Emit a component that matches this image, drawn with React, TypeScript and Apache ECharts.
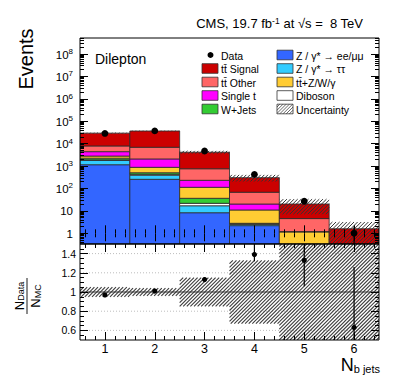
import React, { useEffect, useRef } from "react";
import * as echarts from "echarts";

// ---------------- data ----------------
const nbJets = [1, 2, 3, 4, 5, 6];
const zEeMuMu = [1150, 257, 8.3, 2.2, 0.05, 0];
const zTauTau = [650, 133, 8.7, 0.3, 0.02, 0];
const dibosonVals = [100, 40, 4.8, 0.15, 0.03, 0];
const wJets = [350, 75, 14.7, 0.15, 0, 0];
const ttV = [550, 375, 76.5, 8.2, 1.05, 0.05];
const singleTop = [1600, 1200, 119, 9.3, 0.05, 0];
const ttOther = [3500, 4820, 528, 47.7, 3.35, 0.1];
const ttSignal = [21600, 29800, 3390, 237, 15.8, 1.45];
const dataEvents = [28600, 37100, 4700, 425, 27, 1];
const uncRelUp = [0.05, 0.04, 0.15, 0.33, 0.65, 1.0];
const uncRelDown = [0.05, 0.04, 0.15, 0.33, 0.65, 1.0];
const ratioValues = [0.97, 1.01, 1.13, 1.39, 1.33, 0.63];
const ratioErrUp = [0.01, 0.01, 0.02, 0.12, 0.27, 0.63];
const ratioErrDown = [0.01, 0.01, 0.02, 0.07, 0.27, 0.63];
const logTickExponents = [0, 1, 2, 3, 4, 5, 6, 7, 8];
const ratioTickValues = [0.6, 0.8, 1, 1.2, 1.4];
const ratioGridValues = [0.6, 0.8, 1.2, 1.4];

const TT = "t\u0074\u0304";
const stackDefs = [
  { name: "Z / \u03b3* \u2192 ee/\u03bc\u03bc", values: zEeMuMu, color: "#3366ff" },
  { name: "Z / \u03b3* \u2192 \u03c4\u03c4", values: zTauTau, color: "#33ccff" },
  { name: "Diboson", values: dibosonVals, color: "#ffffff" },
  { name: "W+Jets", values: wJets, color: "#33cc33" },
  { name: TT + "+Z/W/\u03b3", values: ttV, color: "#ffcc33" },
  { name: "Single t", values: singleTop, color: "#ff00ff" },
  { name: TT + " Other", values: ttOther, color: "#ff6666" },
  { name: TT + " Signal", values: ttSignal, color: "#cc0000" },
];

// ---------------- layout ----------------
const FONT = "'Liberation Sans', Arial, Helvetica, sans-serif";
const GL = 80;
const GW = 299;
const G0T = 38;
const G0H = 206;
const G1T = 244;
const G1H = 96;
const X_MIN = 0.5;
const X_MAX = 6.5;
const LOG_MIN = -0.477;
const LOG_MAX = 8.715;
const R_MIN = 0.5;
const R_MAX = 1.5;
const HATCH = "#333333";

function hatchLines(x0: number, y0: number, x1: number, y1: number, step: number, color = HATCH, w = 0.9) {
  const out: any[] = [];
  const cStart = Math.ceil((x0 + y0) / step) * step;
  for (let c = cStart; c <= x1 + y1; c += step) {
    const xa = Math.max(x0, c - y1);
    const xb = Math.min(x1, c - y0);
    if (xb <= xa) continue;
    out.push({
      type: "line",
      shape: { x1: xa, y1: c - xa, x2: xb, y2: c - xb },
      style: { stroke: color, lineWidth: w },
      silent: true,
    });
  }
  return out;
}

function range(a: number, b: number, s: number) {
  const out: number[] = [];
  for (let v = a; v <= b + 1e-9; v += s) out.push(Math.round(v * 1000) / 1000);
  return out;
}

const xMinor = range(0.6, 6.4, 0.2).filter((v) => Math.abs(v - Math.round(v)) > 1e-6);
const logMinor: number[] = [];
for (let d = -1; d <= 8; d++) {
  for (let k = 2; k <= 9; k++) {
    const v = Math.log10(k) + d;
    if (v > LOG_MIN && v < LOG_MAX) logMinor.push(v);
  }
}
const ratioMinor = range(0.5, 1.5, 0.05).filter(
  (v) => !ratioTickValues.some((t) => Math.abs(t - v) < 1e-6) && v > R_MIN && v < R_MAX
);

function tickAxis(grid: number, position: string, min: number, max: number, values: number[], length: number, label?: any) {
  return {
    type: "value",
    gridIndex: grid,
    position,
    min,
    max,
    z: 10,
    silent: true,
    axisLine: { show: false },
    splitLine: { show: false },
    minorTick: { show: false },
    axisTick: { show: true, inside: true, length, customValues: values, lineStyle: { color: "#000", width: 1 } },
    axisLabel: label ? { ...label, customValues: values } : { show: false },
  };
}

function buildOption() {
  const xAxes = [
    tickAxis(0, "bottom", X_MIN, X_MAX, nbJets, 8),
    tickAxis(0, "bottom", X_MIN, X_MAX, xMinor, 4),
    tickAxis(0, "top", X_MIN, X_MAX, nbJets, 8),
    tickAxis(0, "top", X_MIN, X_MAX, xMinor, 4),
    tickAxis(1, "bottom", X_MIN, X_MAX, nbJets, 8, {
      show: true,
      color: "#000",
      fontSize: 12.5,
      fontFamily: FONT,
      margin: 2,
    }),
    tickAxis(1, "bottom", X_MIN, X_MAX, xMinor, 4),
    tickAxis(1, "top", X_MIN, X_MAX, nbJets, 8),
    tickAxis(1, "top", X_MIN, X_MAX, xMinor, 4),
  ];
  const yAxes = [
    tickAxis(0, "left", LOG_MIN, LOG_MAX, logTickExponents, 8, {
      show: true,
      color: "#000",
      fontSize: 11.5,
      fontFamily: FONT,
      margin: 7,
      formatter: (v: number) => {
        const e = Math.round(v);
        if (e === 0) return "{b|1}";
        if (e === 1) return "{b|10}";
        return "{b|10}{s|" + e + "}";
      },
      rich: {
        b: { fontSize: 11.5, fontFamily: FONT, color: "#000", lineHeight: 13, padding: [4, 0, 0, 0], verticalAlign: "bottom" },
        s: { fontSize: 8, fontFamily: FONT, color: "#000", lineHeight: 8, verticalAlign: "top" },
      },
    }),
    tickAxis(0, "left", LOG_MIN, LOG_MAX, logMinor, 4),
    tickAxis(0, "right", LOG_MIN, LOG_MAX, logTickExponents, 8),
    tickAxis(0, "right", LOG_MIN, LOG_MAX, logMinor, 4),
    tickAxis(1, "left", R_MIN, R_MAX, ratioTickValues, 8, {
      show: true,
      color: "#000",
      fontSize: 10.5,
      fontFamily: FONT,
      margin: 4,
      formatter: (v: number) => String(Math.round(v * 10) / 10),
    }),
    tickAxis(1, "left", R_MIN, R_MAX, ratioMinor, 4),
    tickAxis(1, "right", R_MIN, R_MAX, ratioTickValues, 8),
    tickAxis(1, "right", R_MIN, R_MAX, ratioMinor, 4),
  ];

  const series: any[] = [];

  // stacked MC histograms (log10 space)
  const cum = nbJets.map(() => 0);
  stackDefs.forEach((def, si) => {
    const data = nbJets.map((x, i) => {
      const lo = cum[i];
      const hi = cum[i] + def.values[i];
      cum[i] = hi;
      return [x, lo, hi];
    });
    series.push({
      type: "custom",
      name: def.name,
      xAxisIndex: 0,
      yAxisIndex: 0,
      clip: true,
      z: 2 + si * 0.01,
      silent: true,
      data,
      renderItem: (_p: any, api: any) => {
        const x = api.value(0);
        const lo = api.value(1);
        const hi = api.value(2);
        if (!(hi > 0) || hi <= lo) return { type: "group", children: [] };
        const yHi = Math.min(Math.log10(hi), LOG_MAX);
        if (yHi <= LOG_MIN) return { type: "group", children: [] };
        const yLo = lo > 0 ? Math.max(Math.log10(lo), LOG_MIN) : LOG_MIN;
        const p0 = api.coord([x - 0.5, yHi]);
        const p1 = api.coord([x + 0.5, yLo]);
        return {
          type: "rect",
          shape: { x: p0[0], y: p0[1], width: p1[0] - p0[0], height: p1[1] - p0[1] },
          style: { fill: def.color, stroke: "#2a2a2a", lineWidth: 0.8 },
        };
      },
    });
  });
  const totals = cum.slice();

  // uncertainty hatch (upper)
  series.push({
    type: "custom",
    xAxisIndex: 0,
    yAxisIndex: 0,
    clip: true,
    z: 3,
    silent: true,
    data: nbJets.map((x, i) => [x, totals[i] * (1 - uncRelDown[i]), totals[i] * (1 + uncRelUp[i])]),
    renderItem: (_p: any, api: any) => {
      const x = api.value(0);
      const lo = api.value(1);
      const hi = api.value(2);
      const yHi = Math.min(Math.log10(hi), LOG_MAX);
      const yLo = lo > 0 ? Math.max(Math.log10(lo), LOG_MIN) : LOG_MIN;
      const p0 = api.coord([x - 0.5, yHi]);
      const p1 = api.coord([x + 0.5, yLo]);
      return { type: "group", children: hatchLines(p0[0], p0[1], p1[0], p1[1], 3.6, HATCH, 1) };
    },
  });

  // data points (upper)
  series.push({
    type: "custom",
    xAxisIndex: 0,
    yAxisIndex: 0,
    clip: true,
    z: 5,
    silent: true,
    data: nbJets.map((x, i) => [x, dataEvents[i]]),
    renderItem: (_p: any, api: any) => {
      const x = api.value(0);
      const n = api.value(1);
      const e = Math.sqrt(n);
      const yc = Math.log10(n);
      const yTop = Math.min(Math.log10(n + e), LOG_MAX);
      const yBot = n - e > 0 ? Math.max(Math.log10(n - e), LOG_MIN) : LOG_MIN;
      const pc = api.coord([x, yc]);
      const pt = api.coord([x, yTop]);
      const pb = api.coord([x, yBot]);
      return {
        type: "group",
        children: [
          { type: "line", shape: { x1: pt[0], y1: pt[1], x2: pb[0], y2: pb[1] }, style: { stroke: "#000", lineWidth: 1.2 } },
          { type: "circle", shape: { cx: pc[0], cy: pc[1], r: 3.4 }, style: { fill: "#000" } },
        ],
      };
    },
  });

  // ratio grid lines
  series.push({
    type: "custom",
    xAxisIndex: 4,
    yAxisIndex: 4,
    clip: true,
    z: 1,
    silent: true,
    data: ratioGridValues.map((v) => [X_MIN, v]),
    renderItem: (_p: any, api: any) => {
      const v = api.value(1);
      const a = api.coord([X_MIN, v]);
      const b = api.coord([X_MAX, v]);
      return {
        type: "line",
        shape: { x1: a[0], y1: a[1], x2: b[0], y2: b[1] },
        style: { stroke: "#bdbdbd", lineWidth: 1, lineDash: [1, 2] },
      };
    },
  });

  // ratio uncertainty hatch
  series.push({
    type: "custom",
    xAxisIndex: 4,
    yAxisIndex: 4,
    clip: true,
    z: 2,
    silent: true,
    data: nbJets.map((x, i) => [x, 1 - uncRelDown[i], 1 + uncRelUp[i]]),
    renderItem: (_p: any, api: any) => {
      const x = api.value(0);
      const lo = Math.max(api.value(1), R_MIN);
      const hi = Math.min(api.value(2), R_MAX);
      const p0 = api.coord([x - 0.5, hi]);
      const p1 = api.coord([x + 0.5, lo]);
      return { type: "group", children: hatchLines(p0[0], p0[1], p1[0], p1[1], 3.6, "#3c3c3c", 1.1) };
    },
  });

  // unity line
  series.push({
    type: "custom",
    xAxisIndex: 4,
    yAxisIndex: 4,
    clip: true,
    z: 3,
    silent: true,
    data: [[X_MIN, 1]],
    renderItem: (_p: any, api: any) => {
      const a = api.coord([X_MIN, api.value(1)]);
      const b = api.coord([X_MAX, api.value(1)]);
      return { type: "line", shape: { x1: a[0], y1: a[1], x2: b[0], y2: b[1] }, style: { stroke: "#333", lineWidth: 1 } };
    },
  });

  // ratio points
  series.push({
    type: "custom",
    xAxisIndex: 4,
    yAxisIndex: 4,
    clip: true,
    z: 5,
    silent: true,
    data: nbJets.map((x, i) => [x, ratioValues[i], ratioErrUp[i], ratioErrDown[i]]),
    renderItem: (_p: any, api: any) => {
      const x = api.value(0);
      const r = api.value(1);
      const pc = api.coord([x, r]);
      const pt = api.coord([x, Math.min(r + api.value(2), R_MAX)]);
      const pb = api.coord([x, Math.max(r - api.value(3), R_MIN)]);
      return {
        type: "group",
        children: [
          { type: "line", shape: { x1: pt[0], y1: pt[1], x2: pb[0], y2: pb[1] }, style: { stroke: "#000", lineWidth: 1.2 } },
          { type: "circle", shape: { cx: pc[0], cy: pc[1], r: 2.6 }, style: { fill: "#000" } },
        ],
      };
    },
  });

  // ---------------- graphic decorations ----------------
  const g: any[] = [];
  g.push({
    type: "rect",
    z: 100,
    silent: true,
    shape: { x: GL, y: G0T, width: GW, height: G0H },
    style: { fill: "none", stroke: "#000", lineWidth: 1 },
  });
  g.push({
    type: "rect",
    z: 100,
    silent: true,
    shape: { x: GL, y: G1T, width: GW, height: G1H },
    style: { fill: "none", stroke: "#000", lineWidth: 1 },
  });

  g.push({
    type: "text",
    x: 363,
    y: 23,
    z: 100,
    style: {
      text: "{a|CMS, 19.7 fb}{s|-1}{a| at \u221as =  8 TeV}",
      align: "right",
      verticalAlign: "middle",
      rich: {
        a: { fontSize: 13, fontFamily: FONT, fill: "#000", lineHeight: 14, padding: [4, 0, 0, 0], verticalAlign: "bottom" },
        s: { fontSize: 8.5, fontFamily: FONT, fill: "#000", lineHeight: 9, verticalAlign: "top" },
      },
    },
  });

  g.push({
    type: "text",
    x: 25.5,
    y: 59,
    rotation: Math.PI / 2,
    z: 100,
    style: { text: "Events", fontSize: 20, fontFamily: FONT, fill: "#000", align: "center", verticalAlign: "middle" },
  });

  g.push({
    type: "text",
    x: 95,
    y: 59,
    z: 100,
    style: { text: "Dilepton", fontSize: 14, fontFamily: FONT, fill: "#000", align: "left", verticalAlign: "middle" },
  });

  // legend
  const rows = [55, 68.5, 82, 95.5, 109];
  const leftCol = [
    { label: "Data", kind: "marker", color: "" },
    { label: stackDefs[7].name, kind: "box", color: stackDefs[7].color },
    { label: stackDefs[6].name, kind: "box", color: stackDefs[6].color },
    { label: stackDefs[5].name, kind: "box", color: stackDefs[5].color },
    { label: stackDefs[3].name, kind: "box", color: stackDefs[3].color },
  ];
  const rightCol = [
    { label: stackDefs[0].name, kind: "box", color: stackDefs[0].color },
    { label: stackDefs[1].name, kind: "box", color: stackDefs[1].color },
    { label: stackDefs[4].name, kind: "box", color: stackDefs[4].color },
    { label: stackDefs[2].name, kind: "box", color: stackDefs[2].color },
    { label: "Uncertainty", kind: "hatch", color: "" },
  ];
  const addCol = (items: any[], bx: number, tx: number) => {
    items.forEach((it, i) => {
      const y = rows[i];
      if (it.kind === "marker") {
        g.push({ type: "circle", z: 100, shape: { cx: bx + 8.5, cy: y, r: 3 }, style: { fill: "#000" } });
      } else if (it.kind === "box") {
        g.push({
          type: "rect",
          z: 100,
          shape: { x: bx, y: y - 4.8, width: 16, height: 9.6 },
          style: { fill: it.color, stroke: "#333", lineWidth: 0.8 },
        });
      } else {
        hatchLines(bx, y - 4.8, bx + 16, y + 4.8, 3.2, "#444", 0.8).forEach((l) => g.push({ ...l, z: 100 }));
        g.push({
          type: "rect",
          z: 100,
          shape: { x: bx, y: y - 4.8, width: 16, height: 9.6 },
          style: { fill: "none", stroke: "#333", lineWidth: 0.8 },
        });
      }
      g.push({
        type: "text",
        x: tx,
        y: y + 0.5,
        z: 100,
        style: { text: it.label, fontSize: 10.5, fontFamily: FONT, fill: "#000", align: "left", verticalAlign: "middle" },
      });
    });
  };
  addCol(leftCol, 202, 221);
  addCol(rightCol, 277, 296);

  // ratio y title (fraction)
  const fracRich = {
    n: { fontSize: 13, fontFamily: FONT, fill: "#000", lineHeight: 13, padding: [0, 0, 4, 0], verticalAlign: "top" },
    d: { fontSize: 9, fontFamily: FONT, fill: "#000", lineHeight: 9, verticalAlign: "bottom" },
  };
  g.push({
    type: "group",
    x: 27,
    y: 296,
    rotation: Math.PI / 2,
    z: 100,
    children: [
      {
        type: "text",
        x: 0,
        y: -8,
        style: { text: "{n|N}{d|Data}", align: "center", verticalAlign: "middle", rich: fracRich },
      },
      { type: "line", shape: { x1: -18, y1: 0, x2: 18, y2: 0 }, style: { stroke: "#000", lineWidth: 0.9 } },
      {
        type: "text",
        x: 0,
        y: 8.5,
        style: { text: "{n|N}{d|MC}", align: "center", verticalAlign: "middle", rich: fracRich },
      },
    ],
  });

  // x-axis title
  g.push({
    type: "text",
    x: 380,
    y: 356,
    z: 100,
    style: {
      text: "{n|N}{s|b jets}",
      align: "right",
      verticalAlign: "top",
      rich: {
        n: { fontSize: 18, fontFamily: FONT, fill: "#000", lineHeight: 18, padding: [0, 0, 4, 0], verticalAlign: "top" },
        s: { fontSize: 11, fontFamily: FONT, fill: "#000", lineHeight: 11, verticalAlign: "bottom" },
      },
    },
  });

  return {
    animation: false,
    backgroundColor: "#ffffff",
    textStyle: { fontFamily: FONT },
    grid: [
      { left: GL, top: G0T, width: GW, height: G0H, show: false },
      { left: GL, top: G1T, width: GW, height: G1H, show: false },
    ],
    xAxis: xAxes,
    yAxis: yAxes,
    series,
    graphic: g,
  };
}

export default function App() {
  const ref = useRef<HTMLDivElement>(null);
  useEffect(() => {
    if (!ref.current) return;
    const chart = echarts.init(ref.current, null, { renderer: "svg" });
    chart.setOption(buildOption() as any);
    return () => chart.dispose();
  }, []);
  return (
    <div
      ref={ref}
      style={{ position: "fixed", left: 0, top: 0, width: 399, height: 383, background: "#fff" }}
    />
  );
}
